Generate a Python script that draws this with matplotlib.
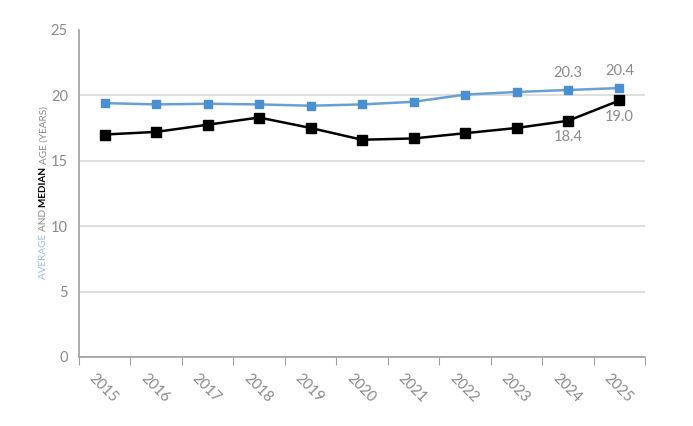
import matplotlib.pyplot as plt
import matplotlib.transforms as mtransforms
from matplotlib.ticker import FixedLocator

years = ['2015', '2016', '2017', '2018', '2019', '2020',
         '2021', '2022', '2023', '2024', '2025']
average_age = [19.4, 19.3, 19.35, 19.3, 19.2, 19.3, 19.5, 20.05, 20.25, 20.4, 20.55]
median_age = [17.0, 17.2, 17.75, 18.3, 17.5, 16.6, 16.7, 17.1, 17.5, 18.05, 19.6]
label_idx = [9, 10]
average_labels = ['20.3', '20.4']
median_labels = ['18.4', '19.0']

gray = '#8a8a8a'
blue = '#4a8fd0'
plt.rcParams['font.family'] = ['Lato', 'DejaVu Sans']

fig = plt.figure(figsize=(6.93, 4.26), dpi=100)
ax = fig.add_axes([0.114, 0.162, 0.817, 0.768])

x = list(range(len(years)))
ax.plot(x, average_age, color='#6a9fd6', lw=1.8, marker='s', ms=6,
        mfc=blue, mec=blue, zorder=3)
ax.plot(x, median_age, color='black', lw=1.8, marker='s', ms=7,
        mfc='black', mec='black', zorder=3)

for i, lab in zip(label_idx, average_labels):
    ax.annotate(lab, (i, average_age[i]), xytext=(0, 7), textcoords='offset points',
                ha='center', va='bottom', fontsize=10.5, color=gray)
for i, lab in zip(label_idx, median_labels):
    ax.annotate(lab, (i, median_age[i]), xytext=(0, -7), textcoords='offset points',
                ha='center', va='top', fontsize=10.5, color=gray)

ax.set_xlim(-0.5, len(years) - 0.5)
ax.set_ylim(0, 25)
ax.set_yticks([0, 5, 10, 15, 20, 25])
ax.yaxis.grid(True, color='#d9d9d9', lw=1.2)
ax.yaxis.get_gridlines()[-1].set_visible(False)
ax.set_axisbelow(True)

ax.xaxis.set_major_locator(FixedLocator([i - 0.5 for i in range(len(years) + 1)]))
ax.set_xticklabels([])
ax.set_xticks(x, minor=True)
ax.set_xticklabels(years, minor=True, rotation=-45, ha='left', va='top',
                   rotation_mode='anchor', fontsize=10.5, color=gray)
ax.tick_params(axis='x', which='major', length=6, color='#a0a0a0', direction='out')
ax.tick_params(axis='x', which='minor', length=0, pad=10)
ax.tick_params(axis='y', length=0, labelsize=10.5, labelcolor=gray, pad=8)

# nudge rotated year labels a little to the left
shift = mtransforms.ScaledTranslation(-6 / 72, 0, fig.dpi_scale_trans)
for lbl in ax.get_xticklabels(minor=True):
    lbl.set_transform(lbl.get_transform() + shift)

for s in ['top', 'right']:
    ax.spines[s].set_visible(False)
for s in ['left', 'bottom']:
    ax.spines[s].set_color('#a0a0a0')
    ax.spines[s].set_linewidth(1.2)

# multi-coloured y label, stacked bottom to top
parts = [('AVERAGE ', '#9dbfe3', 'normal'), ('AND ', gray, 'normal'),
         ('MEDIAN ', 'black', 'bold'), ('AGE (YEARS)', gray, 'normal')]
ypos = 0.345
renderer = fig.canvas.get_renderer()
for txt, col, wt in parts:
    t = fig.text(0.063, ypos, txt, rotation=90, color=col, fontweight=wt,
                 fontsize=7.2, ha='center', va='bottom')
    bb = t.get_window_extent(renderer)
    ypos += bb.height / fig.bbox.height

fig.savefig('out.png', dpi=100)
